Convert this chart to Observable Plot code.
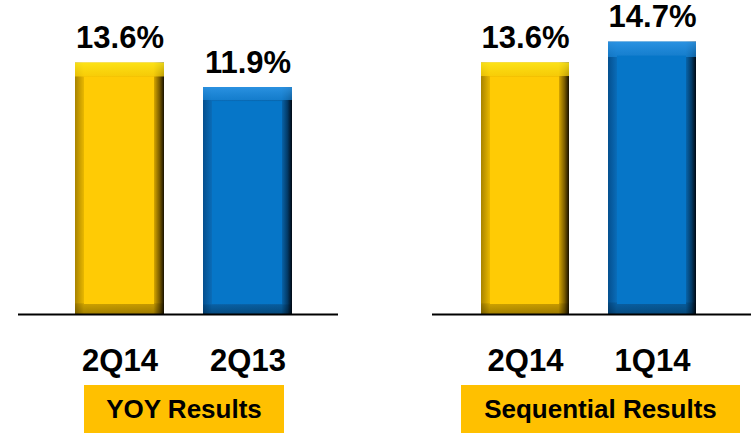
<!DOCTYPE html>
<html>
<head>
<meta charset="utf-8">
<script src="https://cdn.jsdelivr.net/npm/d3@7"></script>
<script src="https://cdn.jsdelivr.net/npm/@observablehq/plot@0.6"></script>
<style>
  html, body { margin: 0; padding: 0; background: #fff; }
  #wrap { position: relative; width: 751px; height: 434px; overflow: hidden; font-family: "Liberation Sans", Arial, sans-serif; }
  .panel { position: absolute; top: 0; }
  .box { position: absolute; top: 385px; height: 48px; background: #FFC000; color: #000;
         font: bold 26px "Liberation Sans", Arial, sans-serif; display: flex; align-items: center; justify-content: center; }
</style>
</head>
<body>
<svg width="0" height="0" style="position:absolute">
  <defs>
    <linearGradient id="h-current" x1="0" x2="1" y1="0" y2="0">
      <stop offset="0" stop-color="#A88300"/>
      <stop offset="0.10" stop-color="#E8B700"/>
      <stop offset="0.88" stop-color="#E0AE00"/>
      <stop offset="0.95" stop-color="#7A5C00"/>
      <stop offset="1" stop-color="#171000"/>
    </linearGradient>
    <linearGradient id="v-current" x1="0" x2="0" y1="0" y2="1">
      <stop offset="0" stop-color="#FFE81A" stop-opacity="0.9"/>
      <stop offset="0.055" stop-color="#FFD60A" stop-opacity="0.7"/>
      <stop offset="0.056" stop-color="#FFD60A" stop-opacity="0"/>
      <stop offset="0.955" stop-color="#000" stop-opacity="0"/>
      <stop offset="0.96" stop-color="#000" stop-opacity="0.12"/>
      <stop offset="1" stop-color="#000" stop-opacity="0.3"/>
    </linearGradient>
    <linearGradient id="h-prior" x1="0" x2="1" y1="0" y2="0">
      <stop offset="0" stop-color="#044F8E"/>
      <stop offset="0.10" stop-color="#0A6CB8"/>
      <stop offset="0.88" stop-color="#0868B0"/>
      <stop offset="0.95" stop-color="#033A66"/>
      <stop offset="1" stop-color="#000812"/>
    </linearGradient>
    <linearGradient id="v-prior" x1="0" x2="0" y1="0" y2="1">
      <stop offset="0" stop-color="#2E96E6" stop-opacity="0.9"/>
      <stop offset="0.055" stop-color="#1A86D8" stop-opacity="0.7"/>
      <stop offset="0.056" stop-color="#1A86D8" stop-opacity="0"/>
      <stop offset="0.955" stop-color="#000" stop-opacity="0"/>
      <stop offset="0.96" stop-color="#000" stop-opacity="0.12"/>
      <stop offset="1" stop-color="#000" stop-opacity="0.3"/>
    </linearGradient>
  </defs>
</svg>
<div id="wrap"></div>
<script>
// ---- data ----
const panelTitles = ["YOY Results", "Sequential Results"];
const yoyCategories = ["2Q14", "2Q13"];
const yoyValues = [13.6, 11.9];
const seqCategories = ["2Q14", "1Q14"];
const seqValues = [13.6, 14.7];
const roles = ["current", "prior"];

// ---- styling / layout ----
const faceColor = { current: "#FFCB05", prior: "#0676C8" };
const font = '"Liberation Sans", Arial, sans-serif';

const panelsConfig = [
  { title: panelTitles[0], cats: yoyCategories, vals: yoyValues, left: 0, width: 375,
    marginLeft: 18, marginRight: 37, yDomain: [-3.85, 17.94], align: 0.558, boxLeft: 84, boxWidth: 200 },
  { title: panelTitles[1], cats: seqCategories, vals: seqValues, left: 375, width: 376,
    marginLeft: 57, marginRight: 0, yDomain: [0.30, 16.9], align: 0.475, boxLeft: 461, boxWidth: 279 }
];

const wrap = document.getElementById("wrap");

for (const p of panelsConfig) {
  const data = p.cats.map((c, i) => ({ cat: c, value: p.vals[i], role: roles[i] }));
  const base = p.yDomain[0];
  const chart = Plot.plot({
    width: p.width,
    height: 434,
    marginTop: 0,
    marginBottom: 120,
    marginLeft: p.marginLeft,
    marginRight: p.marginRight,
    style: { fontFamily: font, background: "transparent", color: "#000", overflow: "visible" },
    x: { domain: p.cats, paddingInner: 0.305, paddingOuter: 0.4, align: p.align },
    y: { domain: p.yDomain, axis: null },
    color: { type: "identity" },
    marks: [
      Plot.barY(data, { x: "cat", y1: base, y2: "value", fill: d => `url(#h-${d.role})` }),
      Plot.barY(data, { x: "cat", y1: base, y2: "value", fill: d => `url(#v-${d.role})` }),
      Plot.barY(data, { x: "cat", y1: base, y2: "value", fill: d => faceColor[d.role],
        insetLeft: 9, insetRight: 10, insetTop: 14, insetBottom: 10 }),
      Plot.ruleY([base], { stroke: "#000", strokeWidth: 2 }),
      Plot.text(data, { x: "cat", y: "value", text: d => d3.format(".1f")(d.value) + "%",
        lineAnchor: "bottom", dy: -15, fontSize: 31, fontWeight: "bold", fill: "#000" }),
      Plot.axisX({ tickSize: 0, tickPadding: 34, fontSize: 31, fontWeight: "bold", fill: "#000", label: null })
    ]
  });
  chart.classList.add("panel");
  chart.style.left = p.left + "px";
  wrap.appendChild(chart);

  const box = document.createElement("div");
  box.className = "box";
  box.style.left = p.boxLeft + "px";
  box.style.width = p.boxWidth + "px";
  box.textContent = p.title;
  wrap.appendChild(box);
}
</script>
</body>
</html>
